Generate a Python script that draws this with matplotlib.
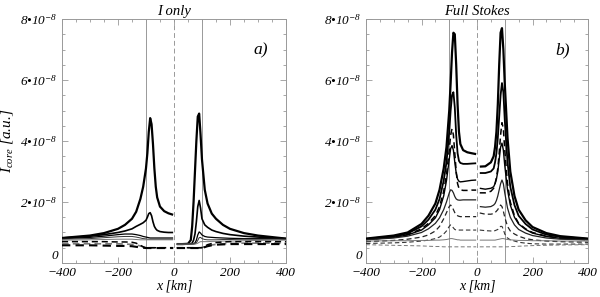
import numpy as np
import matplotlib
matplotlib.use("Agg")
import matplotlib.pyplot as plt
from matplotlib.ticker import MultipleLocator, FuncFormatter

plt.rcParams["font.family"] = "Liberation Serif"
plt.rcParams["font.style"] = "italic"
plt.rcParams["mathtext.fontset"] = "custom"
plt.rcParams["mathtext.rm"] = "Liberation Serif:italic"
plt.rcParams["mathtext.it"] = "Liberation Serif:italic"

# sample positions [km], left and right of the centre
x_left = [-400, -300, -250, -200, -175, -150, -135, -120, -110, -100, -95,
          -90, -85, -80, -75, -70, -65, -60, -50, -35, -20, -3]
x_right = [10, 30, 50, 60, 65, 70, 75, 80, 85, 90, 95, 100, 110, 120, 135,
           150, 175, 200, 250, 300, 400]

# ---- panel a) I only  (values in 1e-8 a.u.)
a1_l = [0.82, 0.9, 0.98, 1.12, 1.25, 1.45, 1.68, 2.1, 2.5, 3.1, 3.6, 4.3,
        4.75, 4.55, 3.9, 3.1, 2.5, 2.15, 1.85, 1.7, 1.63, 1.58]
a1_r = [0.62, 0.62, 0.63, 0.75, 1.2, 2.0, 3.0, 4.0, 4.8, 4.9, 4.2, 3.4,
        2.4, 1.95, 1.62, 1.45, 1.25, 1.12, 0.98, 0.9, 0.8]
a2_l = [0.82, 0.88, 0.93, 1.0, 1.05, 1.12, 1.2, 1.27, 1.32, 1.4, 1.5, 1.62,
        1.65, 1.55, 1.35, 1.2, 1.12, 1.07, 1.03, 1.01, 1.0, 1.0]
a2_r = [0.62, 0.62, 0.62, 0.63, 0.65, 0.75, 0.95, 1.35, 1.85, 2.05, 1.8,
        1.45, 1.25, 1.17, 1.08, 1.03, 0.97, 0.93, 0.88, 0.85, 0.8]
a3_l = [0.8, 0.84, 0.88, 0.93, 0.95, 0.95, 0.93, 0.9, 0.87, 0.85, 0.84,
        0.83, 0.82, 0.82, 0.82, 0.82, 0.82, 0.82, 0.82, 0.82, 0.82, 0.82]
a3_r = [0.62, 0.62, 0.62, 0.62, 0.62, 0.63, 0.66, 0.75, 0.92, 1.02, 0.98,
        0.92, 0.87, 0.85, 0.84, 0.83, 0.82, 0.81, 0.8, 0.8, 0.8]
a4_l = [0.78, 0.8, 0.83, 0.86, 0.87, 0.87, 0.85, 0.82, 0.8, 0.79, 0.78,
        0.78, 0.78, 0.78, 0.78, 0.78, 0.78, 0.78, 0.78, 0.78, 0.78, 0.78]
a4_r = [0.62, 0.62, 0.62, 0.62, 0.62, 0.62, 0.63, 0.66, 0.74, 0.83, 0.84,
        0.8, 0.77, 0.76, 0.76, 0.76, 0.77, 0.77, 0.78, 0.78, 0.78]
a5_l = [0.75, 0.76, 0.77, 0.78, 0.78, 0.78, 0.77, 0.76, 0.76, 0.76, 0.76,
        0.76, 0.76, 0.76, 0.76, 0.76, 0.76, 0.76, 0.76, 0.76, 0.76, 0.76]
a5_r = [0.62, 0.62, 0.62, 0.62, 0.62, 0.62, 0.62, 0.63, 0.65, 0.68, 0.7,
        0.7, 0.7, 0.7, 0.71, 0.71, 0.72, 0.72, 0.73, 0.74, 0.75]
ad1_l = [0.58, 0.58, 0.57, 0.56, 0.56, 0.55, 0.53, 0.51, 0.5, 0.49, 0.49,
         0.49, 0.49, 0.49, 0.49, 0.49, 0.49, 0.49, 0.49, 0.49, 0.49, 0.49]
ad1_r = [0.49, 0.49, 0.49, 0.49, 0.49, 0.49, 0.49, 0.49, 0.49, 0.49, 0.49,
         0.49, 0.52, 0.55, 0.58, 0.6, 0.61, 0.62, 0.62, 0.62, 0.62]
ad2_l = [0.7, 0.7, 0.7, 0.69, 0.69, 0.68, 0.65, 0.58, 0.53, 0.5, 0.5, 0.5,
         0.5, 0.5, 0.5, 0.5, 0.5, 0.5, 0.5, 0.5, 0.5, 0.5]
ad2_r = [0.5, 0.5, 0.5, 0.5, 0.5, 0.5, 0.5, 0.5, 0.5, 0.5, 0.5, 0.5, 0.55,
         0.6, 0.64, 0.67, 0.69, 0.7, 0.7, 0.7, 0.7]
ad3_l = [0.63, 0.63, 0.63, 0.63, 0.62, 0.61, 0.59, 0.56, 0.53, 0.51, 0.5,
         0.5, 0.5, 0.5, 0.5, 0.5, 0.5, 0.5, 0.5, 0.5, 0.5, 0.5]
ad3_r = [0.5, 0.5, 0.5, 0.5, 0.5, 0.5, 0.5, 0.5, 0.5, 0.5, 0.5, 0.51, 0.53,
         0.56, 0.59, 0.61, 0.63, 0.64, 0.65, 0.65, 0.65]

# ---- panel b) Full Stokes
b1_l = [0.8, 0.9, 1.0, 1.28, 1.55, 1.95, 2.4, 3.1, 3.8, 5.0, 5.9, 6.9, 7.55,
        7.5, 6.5, 5.2, 4.3, 3.9, 3.7, 3.63, 3.6, 3.57]
b1_r = [3.16, 3.17, 3.3, 3.5, 3.8, 4.3, 5.2, 6.5, 7.55, 7.7, 7.0, 5.9, 4.1,
        3.0, 2.2, 1.75, 1.4, 1.18, 0.98, 0.88, 0.8]
b2_l = [0.79, 0.88, 0.97, 1.2, 1.42, 1.75, 2.1, 2.7, 3.3, 4.3, 5.0, 5.5,
        5.6, 5.1, 4.2, 3.6, 3.35, 3.28, 3.25, 3.25, 3.26, 3.27]
b2_r = [2.95, 2.95, 3.0, 3.1, 3.3, 3.6, 4.1, 4.8, 5.5, 5.9, 5.6, 4.7, 3.3,
        2.5, 1.9, 1.55, 1.28, 1.1, 0.93, 0.86, 0.79]
b3_l = [0.77, 0.85, 0.93, 1.12, 1.3, 1.55, 1.85, 2.35, 2.9, 3.7, 4.2, 4.4,
        4.2, 3.6, 3.0, 2.6, 2.45, 2.4, 2.38, 2.38, 2.39, 2.39]
b3_r = [2.3, 2.3, 2.35, 2.45, 2.6, 2.8, 3.1, 3.6, 4.2, 4.6, 4.4, 3.7, 2.6,
        2.0, 1.55, 1.3, 1.12, 1.0, 0.88, 0.82, 0.76]
b4_l = [0.77, 0.84, 0.92, 1.08, 1.25, 1.48, 1.75, 2.2, 2.7, 3.4, 3.75, 3.85,
        3.7, 3.3, 2.95, 2.75, 2.68, 2.66, 2.67, 2.69, 2.71, 2.72]
b4_r = [2.45, 2.42, 2.45, 2.5, 2.6, 2.75, 3.0, 3.4, 3.8, 3.93, 3.7, 3.2,
        2.4, 1.9, 1.5, 1.28, 1.1, 0.98, 0.87, 0.81, 0.77]
b5_l = [0.76, 0.82, 0.88, 1.0, 1.12, 1.3, 1.48, 1.75, 2.0, 2.3, 2.4, 2.38,
        2.3, 2.18, 2.1, 2.07, 2.06, 2.06, 2.07, 2.07, 2.07, 2.07]
b5_r = [1.85, 1.83, 1.85, 1.9, 1.95, 2.05, 2.2, 2.4, 2.6, 2.72, 2.6, 2.3,
        1.8, 1.5, 1.25, 1.1, 0.98, 0.9, 0.82, 0.78, 0.76]
b6_l = [0.7, 0.74, 0.78, 0.85, 0.92, 1.05, 1.2, 1.45, 1.65, 1.85, 1.9, 1.85,
        1.75, 1.65, 1.58, 1.55, 1.53, 1.52, 1.52, 1.52, 1.52, 1.52]
b6_r = [1.64, 1.6, 1.6, 1.62, 1.65, 1.7, 1.75, 1.85, 1.9, 1.85, 1.7, 1.5,
        1.2, 1.05, 0.95, 0.88, 0.8, 0.76, 0.72, 0.7, 0.68]
b7_l = [0.64, 0.66, 0.68, 0.72, 0.75, 0.8, 0.85, 0.95, 1.05, 1.2, 1.25, 1.22,
        1.15, 1.1, 1.08, 1.08, 1.08, 1.08, 1.08, 1.08, 1.08, 1.08]
b7_r = [1.08, 1.06, 1.05, 1.05, 1.06, 1.08, 1.1, 1.15, 1.2, 1.2, 1.1, 0.95,
        0.82, 0.76, 0.72, 0.68, 0.65, 0.63, 0.62, 0.62, 0.62]
b8_l = [0.72, 0.73, 0.73, 0.74, 0.74, 0.75, 0.75, 0.76, 0.77, 0.79, 0.8,
        0.8, 0.79, 0.78, 0.77, 0.76, 0.76, 0.75, 0.75, 0.75, 0.75, 0.75]
b8_r = [0.75, 0.75, 0.75, 0.75, 0.75, 0.76, 0.77, 0.78, 0.79, 0.8, 0.8, 0.79,
        0.77, 0.76, 0.75, 0.74, 0.74, 0.73, 0.73, 0.72, 0.72]
b9_l = [0.6, 0.58, 0.57, 0.56, 0.55, 0.54, 0.54, 0.53, 0.53, 0.53, 0.53,
        0.53, 0.53, 0.53, 0.53, 0.53, 0.53, 0.53, 0.53, 0.53, 0.53, 0.53]
b9_r = [0.53, 0.53, 0.53, 0.53, 0.53, 0.53, 0.53, 0.53, 0.53, 0.53, 0.53,
        0.53, 0.53, 0.54, 0.54, 0.55, 0.56, 0.57, 0.58, 0.59, 0.6]

BLACK = "black"
GREY = "#777777"
SOLID = (0, ())
DASH = (0, (4, 2.5))

curves_a = [
    (a1_l, a1_r, BLACK, 1.6, SOLID),
    (a2_l, a2_r, BLACK, 1.2, SOLID),
    (a3_l, a3_r, BLACK, 0.9, SOLID),
    (a4_l, a4_r, "#333333", 0.7, SOLID),
    (a5_l, a5_r, GREY, 0.7, SOLID),
    (ad3_l, ad3_r, GREY, 1.2, DASH),
    (ad2_l, ad2_r, BLACK, 1.1, DASH),
    (ad1_l, ad1_r, BLACK, 1.5, DASH),
]
curves_b = [
    (b1_l, b1_r, BLACK, 1.6, SOLID),
    (b2_l, b2_r, BLACK, 1.3, SOLID),
    (b3_l, b3_r, BLACK, 1.1, DASH),
    (b4_l, b4_r, BLACK, 1.0, SOLID),
    (b5_l, b5_r, "#222222", 0.9, SOLID),
    (b6_l, b6_r, "#222222", 0.9, DASH),
    (b7_l, b7_r, "#333333", 0.8, DASH),
    (b8_l, b8_r, GREY, 0.7, SOLID),
    (b9_l, b9_r, GREY, 0.7, DASH),
]


def fmt_y(v, pos):
    # the "0" label is drawn separately, slightly raised
    if abs(v) < 1e-9:
        return ""
    return "%d\u202210$^{\u22128}$" % round(v)


def setup(ax, title, tag):
    ax.set_xlim(-400, 400)
    ax.set_ylim(0, 8)
    for s in ax.spines.values():
        s.set_color("#999999")
        s.set_linewidth(0.7)
    ax.axvline(-100, color="#999999", lw=0.7, zorder=1)
    ax.axvline(100, color="#999999", lw=0.7, zorder=1)
    ax.axvline(0, color="#999999", lw=0.7, ls=(0, (5, 3)), zorder=1)
    ax.xaxis.set_major_locator(MultipleLocator(200))
    ax.xaxis.set_minor_locator(MultipleLocator(50))
    ax.yaxis.set_major_locator(MultipleLocator(2))
    ax.yaxis.set_minor_locator(MultipleLocator(0.5))
    ax.tick_params(which="both", direction="in", top=True, right=True,
                   color="#999999", width=0.6, labelsize=9.5)
    ax.tick_params(which="major", length=4.5, pad=3)
    ax.tick_params(which="minor", length=2.5)
    ax.xaxis.set_major_formatter(
        FuncFormatter(lambda v, p: ("%d" % v).replace("-", "\u2212")))
    ax.yaxis.set_major_formatter(FuncFormatter(fmt_y))
    ax.annotate("0", xy=(0, 0), xycoords=("axes fraction", "data"),
                xytext=(-3, 1), textcoords="offset points",
                ha="right", va="bottom", fontsize=9.5)
    ax.set_title(title, fontsize=10.5, pad=3)
    ax.set_xlabel("x [km]", fontsize=10, labelpad=0)
    ax.text(0.92, 0.87, tag, transform=ax.transAxes, fontsize=12.5,
            ha="right", va="center")


fig = plt.figure(figsize=(6.0, 2.97), dpi=100)
ax1 = fig.add_axes([0.1033, 0.1145, 0.3733, 0.8215])
ax2 = fig.add_axes([0.61, 0.1145, 0.37, 0.8215])

for ax, curves in ((ax1, curves_a), (ax2, curves_b)):
    for yl, yr, c, lw, ls in curves:
        ax.plot(x_left, yl, color=c, lw=lw, ls=ls, zorder=3)
        ax.plot(x_right, yr, color=c, lw=lw, ls=ls, zorder=3)

setup(ax1, "I only", "a)")
setup(ax2, "Full Stokes", "b)")
ax1.set_ylabel("$I_{core}$ [a.u.]", fontsize=11, labelpad=4)

fig.savefig("out.png", dpi=100)
